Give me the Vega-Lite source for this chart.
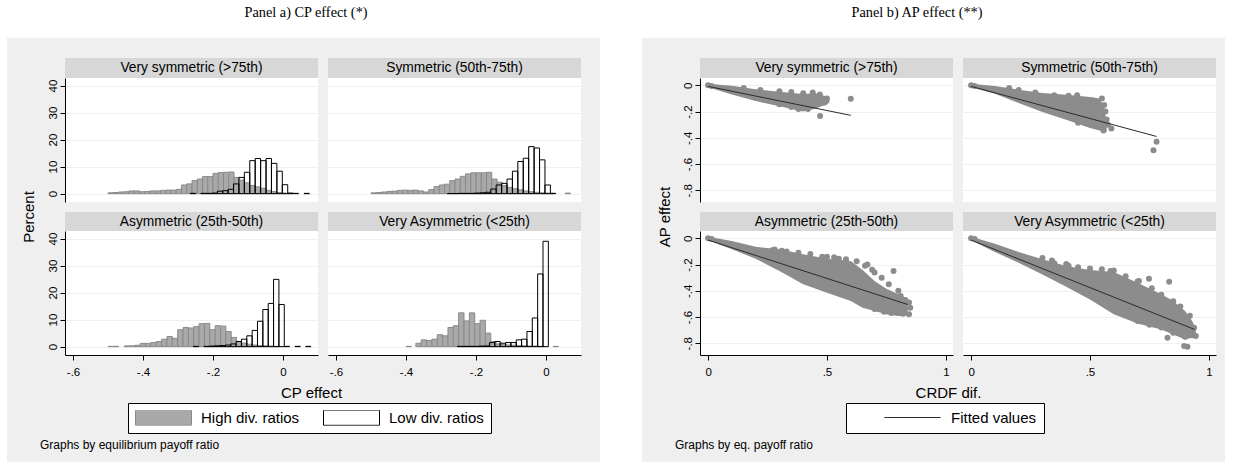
{
"$schema":"https://vega.github.io/schema/vega-lite/v6.json",
"background":"#efefef",
"padding":0,
"autosize":{"type":"pad"},
"datasets":{
"hist":[
{"p":"VS","s":"High div. ratios","a":-0.5,"b":-0.485,"v":0.3},
{"p":"VS","s":"High div. ratios","a":-0.485,"b":-0.47,"v":0.4},
{"p":"VS","s":"High div. ratios","a":-0.47,"b":-0.455,"v":0.6},
{"p":"VS","s":"High div. ratios","a":-0.455,"b":-0.44,"v":0.7},
{"p":"VS","s":"High div. ratios","a":-0.44,"b":-0.425,"v":1.0},
{"p":"VS","s":"High div. ratios","a":-0.425,"b":-0.41,"v":1.0},
{"p":"VS","s":"High div. ratios","a":-0.41,"b":-0.395,"v":0.7},
{"p":"VS","s":"High div. ratios","a":-0.395,"b":-0.38,"v":0.8},
{"p":"VS","s":"High div. ratios","a":-0.38,"b":-0.365,"v":1.0},
{"p":"VS","s":"High div. ratios","a":-0.365,"b":-0.35,"v":1.0},
{"p":"VS","s":"High div. ratios","a":-0.35,"b":-0.335,"v":1.2},
{"p":"VS","s":"High div. ratios","a":-0.335,"b":-0.32,"v":1.3},
{"p":"VS","s":"High div. ratios","a":-0.32,"b":-0.305,"v":1.3},
{"p":"VS","s":"High div. ratios","a":-0.305,"b":-0.29,"v":1.6},
{"p":"VS","s":"High div. ratios","a":-0.29,"b":-0.275,"v":3.2},
{"p":"VS","s":"High div. ratios","a":-0.275,"b":-0.26,"v":3.6},
{"p":"VS","s":"High div. ratios","a":-0.26,"b":-0.245,"v":4.8},
{"p":"VS","s":"High div. ratios","a":-0.245,"b":-0.23,"v":5.4},
{"p":"VS","s":"High div. ratios","a":-0.23,"b":-0.215,"v":6.3},
{"p":"VS","s":"High div. ratios","a":-0.215,"b":-0.2,"v":6.3},
{"p":"VS","s":"High div. ratios","a":-0.2,"b":-0.185,"v":7.5},
{"p":"VS","s":"High div. ratios","a":-0.185,"b":-0.17,"v":7.8},
{"p":"VS","s":"High div. ratios","a":-0.17,"b":-0.155,"v":7.9},
{"p":"VS","s":"High div. ratios","a":-0.155,"b":-0.14,"v":8.0},
{"p":"VS","s":"High div. ratios","a":-0.14,"b":-0.125,"v":6.0},
{"p":"VS","s":"High div. ratios","a":-0.125,"b":-0.11,"v":5.0},
{"p":"VS","s":"High div. ratios","a":-0.11,"b":-0.095,"v":4.0},
{"p":"VS","s":"High div. ratios","a":-0.095,"b":-0.08,"v":3.0},
{"p":"VS","s":"High div. ratios","a":-0.08,"b":-0.065,"v":2.5},
{"p":"VS","s":"High div. ratios","a":-0.065,"b":-0.05,"v":2.0},
{"p":"VS","s":"High div. ratios","a":-0.05,"b":-0.035,"v":1.2},
{"p":"VS","s":"High div. ratios","a":-0.035,"b":-0.02,"v":0.8},
{"p":"VS","s":"High div. ratios","a":-0.02,"b":-0.005,"v":0.4},
{"p":"VS","s":"High div. ratios","a":-0.005,"b":0.01,"v":0.2},
{"p":"VS","s":"High div. ratios","a":0.01,"b":0.025,"v":0.1},
{"p":"VS","s":"Low div. ratios","a":-0.265,"b":-0.2495,"v":0.1},
{"p":"VS","s":"Low div. ratios","a":-0.235,"b":-0.2195,"v":0.1},
{"p":"VS","s":"Low div. ratios","a":-0.219,"b":-0.2035,"v":0.1},
{"p":"VS","s":"Low div. ratios","a":-0.2035,"b":-0.188,"v":0.2},
{"p":"VS","s":"Low div. ratios","a":-0.188,"b":-0.1725,"v":0.9},
{"p":"VS","s":"Low div. ratios","a":-0.1725,"b":-0.157,"v":1.1},
{"p":"VS","s":"Low div. ratios","a":-0.157,"b":-0.1415,"v":1.6},
{"p":"VS","s":"Low div. ratios","a":-0.1415,"b":-0.126,"v":3.6},
{"p":"VS","s":"Low div. ratios","a":-0.126,"b":-0.1105,"v":6.0},
{"p":"VS","s":"Low div. ratios","a":-0.1105,"b":-0.095,"v":7.9},
{"p":"VS","s":"Low div. ratios","a":-0.095,"b":-0.0795,"v":12.2},
{"p":"VS","s":"Low div. ratios","a":-0.0795,"b":-0.064,"v":13.0},
{"p":"VS","s":"Low div. ratios","a":-0.064,"b":-0.0485,"v":12.2},
{"p":"VS","s":"Low div. ratios","a":-0.0485,"b":-0.033,"v":13.0},
{"p":"VS","s":"Low div. ratios","a":-0.033,"b":-0.0175,"v":11.2},
{"p":"VS","s":"Low div. ratios","a":-0.0175,"b":-0.002,"v":8.3},
{"p":"VS","s":"Low div. ratios","a":-0.002,"b":0.0135,"v":3.3},
{"p":"VS","s":"Low div. ratios","a":0.0135,"b":0.029,"v":0.2},
{"p":"VS","s":"Low div. ratios","a":0.029,"b":0.0445,"v":0.1},
{"p":"VS","s":"Low div. ratios","a":0.06,"b":0.0755,"v":0.1},
{"p":"S","s":"High div. ratios","a":-0.5,"b":-0.485,"v":0.3},
{"p":"S","s":"High div. ratios","a":-0.485,"b":-0.47,"v":0.4},
{"p":"S","s":"High div. ratios","a":-0.47,"b":-0.455,"v":0.6},
{"p":"S","s":"High div. ratios","a":-0.455,"b":-0.44,"v":0.8},
{"p":"S","s":"High div. ratios","a":-0.44,"b":-0.425,"v":0.9},
{"p":"S","s":"High div. ratios","a":-0.425,"b":-0.41,"v":1.2},
{"p":"S","s":"High div. ratios","a":-0.41,"b":-0.395,"v":1.3},
{"p":"S","s":"High div. ratios","a":-0.395,"b":-0.38,"v":1.2},
{"p":"S","s":"High div. ratios","a":-0.38,"b":-0.365,"v":1.3},
{"p":"S","s":"High div. ratios","a":-0.365,"b":-0.35,"v":1.0},
{"p":"S","s":"High div. ratios","a":-0.35,"b":-0.335,"v":0.6},
{"p":"S","s":"High div. ratios","a":-0.335,"b":-0.32,"v":1.5},
{"p":"S","s":"High div. ratios","a":-0.32,"b":-0.305,"v":2.6},
{"p":"S","s":"High div. ratios","a":-0.305,"b":-0.29,"v":3.2},
{"p":"S","s":"High div. ratios","a":-0.29,"b":-0.275,"v":3.5},
{"p":"S","s":"High div. ratios","a":-0.275,"b":-0.26,"v":4.8},
{"p":"S","s":"High div. ratios","a":-0.26,"b":-0.245,"v":5.4},
{"p":"S","s":"High div. ratios","a":-0.245,"b":-0.23,"v":6.4},
{"p":"S","s":"High div. ratios","a":-0.23,"b":-0.215,"v":7.3},
{"p":"S","s":"High div. ratios","a":-0.215,"b":-0.2,"v":7.7},
{"p":"S","s":"High div. ratios","a":-0.2,"b":-0.185,"v":7.7},
{"p":"S","s":"High div. ratios","a":-0.185,"b":-0.17,"v":7.7},
{"p":"S","s":"High div. ratios","a":-0.17,"b":-0.155,"v":7.9},
{"p":"S","s":"High div. ratios","a":-0.155,"b":-0.14,"v":5.4},
{"p":"S","s":"High div. ratios","a":-0.14,"b":-0.125,"v":4.2},
{"p":"S","s":"High div. ratios","a":-0.125,"b":-0.11,"v":3.0},
{"p":"S","s":"High div. ratios","a":-0.11,"b":-0.095,"v":2.3},
{"p":"S","s":"High div. ratios","a":-0.095,"b":-0.08,"v":1.8},
{"p":"S","s":"High div. ratios","a":-0.08,"b":-0.065,"v":1.4},
{"p":"S","s":"High div. ratios","a":-0.065,"b":-0.05,"v":1.0},
{"p":"S","s":"High div. ratios","a":-0.05,"b":-0.035,"v":0.7},
{"p":"S","s":"High div. ratios","a":-0.035,"b":-0.02,"v":0.5},
{"p":"S","s":"High div. ratios","a":-0.02,"b":-0.005,"v":0.3},
{"p":"S","s":"High div. ratios","a":-0.005,"b":0.01,"v":0.2},
{"p":"S","s":"High div. ratios","a":0.01,"b":0.025,"v":0.1},
{"p":"S","s":"High div. ratios","a":0.055,"b":0.07,"v":0.2},
{"p":"S","s":"Low div. ratios","a":-0.282,"b":-0.2665,"v":0.05},
{"p":"S","s":"Low div. ratios","a":-0.2665,"b":-0.251,"v":0.05},
{"p":"S","s":"Low div. ratios","a":-0.251,"b":-0.2355,"v":0.1},
{"p":"S","s":"Low div. ratios","a":-0.2355,"b":-0.22,"v":0.1},
{"p":"S","s":"Low div. ratios","a":-0.22,"b":-0.2045,"v":0.1},
{"p":"S","s":"Low div. ratios","a":-0.2045,"b":-0.189,"v":0.2},
{"p":"S","s":"Low div. ratios","a":-0.189,"b":-0.1735,"v":0.3},
{"p":"S","s":"Low div. ratios","a":-0.1735,"b":-0.158,"v":0.5},
{"p":"S","s":"Low div. ratios","a":-0.158,"b":-0.1425,"v":1.7},
{"p":"S","s":"Low div. ratios","a":-0.1425,"b":-0.127,"v":3.2},
{"p":"S","s":"Low div. ratios","a":-0.127,"b":-0.1115,"v":3.8},
{"p":"S","s":"Low div. ratios","a":-0.1115,"b":-0.096,"v":5.4},
{"p":"S","s":"Low div. ratios","a":-0.096,"b":-0.0805,"v":8.3},
{"p":"S","s":"Low div. ratios","a":-0.0805,"b":-0.065,"v":11.9},
{"p":"S","s":"Low div. ratios","a":-0.065,"b":-0.0495,"v":13.1},
{"p":"S","s":"Low div. ratios","a":-0.0495,"b":-0.034,"v":17.4},
{"p":"S","s":"Low div. ratios","a":-0.034,"b":-0.0185,"v":16.9},
{"p":"S","s":"Low div. ratios","a":-0.0185,"b":-0.003,"v":12.5},
{"p":"S","s":"Low div. ratios","a":-0.003,"b":0.0125,"v":3.2},
{"p":"S","s":"Low div. ratios","a":0.0125,"b":0.028,"v":0.1},
{"p":"A","s":"High div. ratios","a":-0.5,"b":-0.4847,"v":0.1},
{"p":"A","s":"High div. ratios","a":-0.4847,"b":-0.4694,"v":0.1},
{"p":"A","s":"High div. ratios","a":-0.454,"b":-0.4387,"v":0.25},
{"p":"A","s":"High div. ratios","a":-0.4387,"b":-0.4234,"v":0.3},
{"p":"A","s":"High div. ratios","a":-0.4234,"b":-0.4081,"v":0.5},
{"p":"A","s":"High div. ratios","a":-0.4081,"b":-0.3928,"v":1.2},
{"p":"A","s":"High div. ratios","a":-0.3928,"b":-0.3775,"v":1.2},
{"p":"A","s":"High div. ratios","a":-0.3775,"b":-0.3622,"v":1.5},
{"p":"A","s":"High div. ratios","a":-0.3622,"b":-0.3469,"v":1.9},
{"p":"A","s":"High div. ratios","a":-0.3469,"b":-0.3316,"v":2.75},
{"p":"A","s":"High div. ratios","a":-0.3316,"b":-0.3163,"v":3.75},
{"p":"A","s":"High div. ratios","a":-0.3163,"b":-0.301,"v":3.1},
{"p":"A","s":"High div. ratios","a":-0.301,"b":-0.2857,"v":6.25},
{"p":"A","s":"High div. ratios","a":-0.2857,"b":-0.2704,"v":7.1},
{"p":"A","s":"High div. ratios","a":-0.2704,"b":-0.2551,"v":6.9},
{"p":"A","s":"High div. ratios","a":-0.2551,"b":-0.2398,"v":7.4},
{"p":"A","s":"High div. ratios","a":-0.2398,"b":-0.2245,"v":8.5},
{"p":"A","s":"High div. ratios","a":-0.2245,"b":-0.2092,"v":8.6},
{"p":"A","s":"High div. ratios","a":-0.2092,"b":-0.1939,"v":6.25},
{"p":"A","s":"High div. ratios","a":-0.1939,"b":-0.1786,"v":7.75},
{"p":"A","s":"High div. ratios","a":-0.1786,"b":-0.1633,"v":7.6},
{"p":"A","s":"High div. ratios","a":-0.1633,"b":-0.148,"v":5.6},
{"p":"A","s":"High div. ratios","a":-0.148,"b":-0.1327,"v":3.4},
{"p":"A","s":"High div. ratios","a":-0.1327,"b":-0.1174,"v":1.9},
{"p":"A","s":"High div. ratios","a":-0.1174,"b":-0.1021,"v":1.3},
{"p":"A","s":"High div. ratios","a":-0.1021,"b":-0.0868,"v":0.9},
{"p":"A","s":"High div. ratios","a":-0.0868,"b":-0.0715,"v":0.6},
{"p":"A","s":"High div. ratios","a":-0.0715,"b":-0.0562,"v":0.4},
{"p":"A","s":"High div. ratios","a":-0.0562,"b":-0.0409,"v":0.3},
{"p":"A","s":"High div. ratios","a":-0.0409,"b":-0.0256,"v":0.2},
{"p":"A","s":"High div. ratios","a":-0.0256,"b":-0.0103,"v":0.1},
{"p":"A","s":"Low div. ratios","a":-0.2565,"b":-0.2412,"v":0.1},
{"p":"A","s":"Low div. ratios","a":-0.2259,"b":-0.2106,"v":0.1},
{"p":"A","s":"Low div. ratios","a":-0.2106,"b":-0.1953,"v":0.2},
{"p":"A","s":"Low div. ratios","a":-0.1953,"b":-0.18,"v":0.3},
{"p":"A","s":"Low div. ratios","a":-0.18,"b":-0.1647,"v":0.4},
{"p":"A","s":"Low div. ratios","a":-0.1647,"b":-0.1494,"v":0.6},
{"p":"A","s":"Low div. ratios","a":-0.1494,"b":-0.1341,"v":1.0},
{"p":"A","s":"Low div. ratios","a":-0.1341,"b":-0.1188,"v":1.9},
{"p":"A","s":"Low div. ratios","a":-0.1188,"b":-0.1035,"v":2.75},
{"p":"A","s":"Low div. ratios","a":-0.1035,"b":-0.0882,"v":4.0},
{"p":"A","s":"Low div. ratios","a":-0.0882,"b":-0.0729,"v":6.0},
{"p":"A","s":"Low div. ratios","a":-0.0729,"b":-0.0576,"v":9.4},
{"p":"A","s":"Low div. ratios","a":-0.0576,"b":-0.0423,"v":13.75},
{"p":"A","s":"Low div. ratios","a":-0.0423,"b":-0.027,"v":16.0},
{"p":"A","s":"Low div. ratios","a":-0.027,"b":-0.0117,"v":24.9},
{"p":"A","s":"Low div. ratios","a":-0.0117,"b":0.0036,"v":15.6},
{"p":"A","s":"Low div. ratios","a":0.0036,"b":0.0189,"v":0.1},
{"p":"A","s":"Low div. ratios","a":0.0342,"b":0.0495,"v":0.1},
{"p":"A","s":"Low div. ratios","a":0.0648,"b":0.0801,"v":0.1},
{"p":"VA","s":"High div. ratios","a":-0.4,"b":-0.3847,"v":0.1},
{"p":"VA","s":"High div. ratios","a":-0.372,"b":-0.3567,"v":1.25},
{"p":"VA","s":"High div. ratios","a":-0.3567,"b":-0.3414,"v":2.5},
{"p":"VA","s":"High div. ratios","a":-0.3414,"b":-0.3261,"v":2.25},
{"p":"VA","s":"High div. ratios","a":-0.3261,"b":-0.3108,"v":2.75},
{"p":"VA","s":"High div. ratios","a":-0.3108,"b":-0.2955,"v":4.4},
{"p":"VA","s":"High div. ratios","a":-0.2955,"b":-0.2802,"v":4.0},
{"p":"VA","s":"High div. ratios","a":-0.2802,"b":-0.2649,"v":7.1},
{"p":"VA","s":"High div. ratios","a":-0.2649,"b":-0.2496,"v":7.75},
{"p":"VA","s":"High div. ratios","a":-0.2496,"b":-0.2343,"v":12.5},
{"p":"VA","s":"High div. ratios","a":-0.2343,"b":-0.219,"v":9.5},
{"p":"VA","s":"High div. ratios","a":-0.219,"b":-0.2037,"v":12.5},
{"p":"VA","s":"High div. ratios","a":-0.2037,"b":-0.1884,"v":8.5},
{"p":"VA","s":"High div. ratios","a":-0.1884,"b":-0.1731,"v":9.75},
{"p":"VA","s":"High div. ratios","a":-0.1731,"b":-0.1578,"v":5.0},
{"p":"VA","s":"High div. ratios","a":-0.1578,"b":-0.1425,"v":1.9},
{"p":"VA","s":"High div. ratios","a":-0.1425,"b":-0.1272,"v":1.0},
{"p":"VA","s":"High div. ratios","a":-0.1272,"b":-0.1119,"v":0.8},
{"p":"VA","s":"High div. ratios","a":-0.1119,"b":-0.0966,"v":0.6},
{"p":"VA","s":"High div. ratios","a":-0.0966,"b":-0.0813,"v":0.5},
{"p":"VA","s":"High div. ratios","a":-0.0813,"b":-0.066,"v":0.4},
{"p":"VA","s":"High div. ratios","a":-0.066,"b":-0.0507,"v":0.3},
{"p":"VA","s":"High div. ratios","a":-0.0507,"b":-0.0354,"v":0.2},
{"p":"VA","s":"High div. ratios","a":-0.0354,"b":-0.0201,"v":0.2},
{"p":"VA","s":"High div. ratios","a":-0.0201,"b":-0.0048,"v":0.1},
{"p":"VA","s":"High div. ratios","a":0.02,"b":0.0353,"v":0.1},
{"p":"VA","s":"Low div. ratios","a":-0.2534,"b":-0.2381,"v":0.1},
{"p":"VA","s":"Low div. ratios","a":-0.2381,"b":-0.2228,"v":0.1},
{"p":"VA","s":"Low div. ratios","a":-0.2228,"b":-0.2075,"v":0.1},
{"p":"VA","s":"Low div. ratios","a":-0.2075,"b":-0.1922,"v":0.1},
{"p":"VA","s":"Low div. ratios","a":-0.1922,"b":-0.1769,"v":0.2},
{"p":"VA","s":"Low div. ratios","a":-0.1769,"b":-0.1616,"v":0.25},
{"p":"VA","s":"Low div. ratios","a":-0.1616,"b":-0.1463,"v":1.5},
{"p":"VA","s":"Low div. ratios","a":-0.1463,"b":-0.131,"v":1.9},
{"p":"VA","s":"Low div. ratios","a":-0.131,"b":-0.1157,"v":1.25},
{"p":"VA","s":"Low div. ratios","a":-0.1157,"b":-0.1004,"v":1.5},
{"p":"VA","s":"Low div. ratios","a":-0.1004,"b":-0.0851,"v":1.5},
{"p":"VA","s":"Low div. ratios","a":-0.0851,"b":-0.0698,"v":2.5},
{"p":"VA","s":"Low div. ratios","a":-0.0698,"b":-0.0545,"v":2.75},
{"p":"VA","s":"Low div. ratios","a":-0.0545,"b":-0.0392,"v":5.6},
{"p":"VA","s":"Low div. ratios","a":-0.0392,"b":-0.0239,"v":10.6},
{"p":"VA","s":"Low div. ratios","a":-0.0239,"b":-0.0086,"v":26.9},
{"p":"VA","s":"Low div. ratios","a":-0.0086,"b":0.0067,"v":39.0}
],
"env":[
{"p":"VS","x":0,"y":0.012,"lo":-0.015},{"p":"VS","x":0.1,"y":-0.003,"lo":-0.069},{"p":"VS","x":0.2,"y":-0.03,"lo":-0.12},{"p":"VS","x":0.3,"y":-0.048,"lo":-0.16},{"p":"VS","x":0.4,"y":-0.066,"lo":-0.2},{"p":"VS","x":0.45,"y":-0.06,"lo":-0.178},{"p":"VS","x":0.5,"y":-0.085,"lo":-0.145},{"p":"VS","x":0.51,"y":-0.1,"lo":-0.13},
{"p":"S","x":0,"y":0.012,"lo":-0.015},{"p":"S","x":0.1,"y":-0.005,"lo":-0.064},{"p":"S","x":0.2,"y":-0.033,"lo":-0.135},{"p":"S","x":0.3,"y":-0.058,"lo":-0.204},{"p":"S","x":0.4,"y":-0.071,"lo":-0.262},{"p":"S","x":0.5,"y":-0.089,"lo":-0.326},{"p":"S","x":0.54,"y":-0.1,"lo":-0.345},{"p":"S","x":0.56,"y":-0.17,"lo":-0.36},{"p":"S","x":0.57,"y":-0.28,"lo":-0.35},
{"p":"A","x":0,"y":0.012,"lo":-0.015},{"p":"A","x":0.1,"y":-0.02,"lo":-0.084},{"p":"A","x":0.2,"y":-0.064,"lo":-0.155},{"p":"A","x":0.3,"y":-0.084,"lo":-0.249},{"p":"A","x":0.4,"y":-0.122,"lo":-0.351},{"p":"A","x":0.5,"y":-0.155,"lo":-0.415},{"p":"A","x":0.6,"y":-0.173,"lo":-0.478},{"p":"A","x":0.65,"y":-0.242,"lo":-0.529},{"p":"A","x":0.7,"y":-0.326,"lo":-0.555},{"p":"A","x":0.75,"y":-0.384,"lo":-0.58},{"p":"A","x":0.8,"y":-0.427,"lo":-0.593},{"p":"A","x":0.84,"y":-0.46,"lo":-0.588},
{"p":"VA","x":0,"y":0.012,"lo":-0.015},{"p":"VA","x":0.1,"y":-0.041,"lo":-0.104},{"p":"VA","x":0.2,"y":-0.104,"lo":-0.186},{"p":"VA","x":0.3,"y":-0.16,"lo":-0.275},{"p":"VA","x":0.4,"y":-0.211,"lo":-0.369},{"p":"VA","x":0.5,"y":-0.242,"lo":-0.466},{"p":"VA","x":0.6,"y":-0.257,"lo":-0.58},{"p":"VA","x":0.7,"y":-0.338,"lo":-0.649},{"p":"VA","x":0.8,"y":-0.427,"lo":-0.695},{"p":"VA","x":0.85,"y":-0.478,"lo":-0.733},{"p":"VA","x":0.9,"y":-0.555,"lo":-0.771},{"p":"VA","x":0.93,"y":-0.631,"lo":-0.758},{"p":"VA","x":0.945,"y":-0.69,"lo":-0.74}
],
"pts":[
{"p":"VS","x":0,"y":0},{"p":"VS","x":0.015,"y":-0.005},{"p":"VS","x":0.15,"y":-0.02},{"p":"VS","x":0.22,"y":-0.035},{"p":"VS","x":0.25,"y":-0.065},{"p":"VS","x":0.3,"y":-0.045},{"p":"VS","x":0.35,"y":-0.05},{"p":"VS","x":0.4,"y":-0.06},{"p":"VS","x":0.44,"y":-0.055},{"p":"VS","x":0.45,"y":-0.085},{"p":"VS","x":0.47,"y":-0.07},{"p":"VS","x":0.5,"y":-0.1},{"p":"VS","x":0.49,"y":-0.13},{"p":"VS","x":0.2,"y":-0.095},{"p":"VS","x":0.3,"y":-0.145},{"p":"VS","x":0.35,"y":-0.165},{"p":"VS","x":0.38,"y":-0.18},{"p":"VS","x":0.42,"y":-0.18},{"p":"VS","x":0.6,"y":-0.102},{"p":"VS","x":0.471,"y":-0.234},
{"p":"S","x":0,"y":0},{"p":"S","x":0.015,"y":-0.005},{"p":"S","x":0.16,"y":-0.02},{"p":"S","x":0.2,"y":-0.035},{"p":"S","x":0.27,"y":-0.055},{"p":"S","x":0.35,"y":-0.075},{"p":"S","x":0.41,"y":-0.08},{"p":"S","x":0.446,"y":-0.076},{"p":"S","x":0.51,"y":-0.115},{"p":"S","x":0.55,"y":-0.1},{"p":"S","x":0.52,"y":-0.15},{"p":"S","x":0.516,"y":-0.178},{"p":"S","x":0.56,"y":-0.15},{"p":"S","x":0.565,"y":-0.2},{"p":"S","x":0.57,"y":-0.26},{"p":"S","x":0.575,"y":-0.3},{"p":"S","x":0.59,"y":-0.33},{"p":"S","x":0.557,"y":-0.345},{"p":"S","x":0.45,"y":-0.285},{"p":"S","x":0.78,"y":-0.43},{"p":"S","x":0.767,"y":-0.496},
{"p":"A","x":0,"y":0},{"p":"A","x":0.015,"y":-0.005},{"p":"A","x":0.27,"y":-0.09},{"p":"A","x":0.28,"y":-0.085},{"p":"A","x":0.31,"y":-0.095},{"p":"A","x":0.33,"y":-0.1},{"p":"A","x":0.38,"y":-0.11},{"p":"A","x":0.43,"y":-0.12},{"p":"A","x":0.48,"y":-0.14},{"p":"A","x":0.5,"y":-0.14},{"p":"A","x":0.53,"y":-0.145},{"p":"A","x":0.55,"y":-0.155},{"p":"A","x":0.58,"y":-0.16},{"p":"A","x":0.625,"y":-0.175},{"p":"A","x":0.66,"y":-0.21},{"p":"A","x":0.67,"y":-0.2},{"p":"A","x":0.69,"y":-0.24},{"p":"A","x":0.7,"y":-0.26},{"p":"A","x":0.73,"y":-0.3},{"p":"A","x":0.76,"y":-0.35},{"p":"A","x":0.78,"y":-0.25},{"p":"A","x":0.8,"y":-0.4},{"p":"A","x":0.81,"y":-0.44},{"p":"A","x":0.83,"y":-0.47},{"p":"A","x":0.845,"y":-0.49},{"p":"A","x":0.85,"y":-0.53},{"p":"A","x":0.845,"y":-0.58},{"p":"A","x":0.82,"y":-0.575},{"p":"A","x":0.8,"y":-0.57},{"p":"A","x":0.77,"y":-0.57},{"p":"A","x":0.74,"y":-0.56},{"p":"A","x":0.72,"y":-0.54},{"p":"A","x":0.7,"y":-0.54},
{"p":"VA","x":0,"y":0},{"p":"VA","x":0.015,"y":-0.005},{"p":"VA","x":0.3,"y":-0.15},{"p":"VA","x":0.34,"y":-0.17},{"p":"VA","x":0.35,"y":-0.19},{"p":"VA","x":0.4,"y":-0.195},{"p":"VA","x":0.41,"y":-0.21},{"p":"VA","x":0.45,"y":-0.22},{"p":"VA","x":0.5,"y":-0.23},{"p":"VA","x":0.55,"y":-0.235},{"p":"VA","x":0.586,"y":-0.249},{"p":"VA","x":0.6,"y":-0.245},{"p":"VA","x":0.65,"y":-0.29},{"p":"VA","x":0.7,"y":-0.33},{"p":"VA","x":0.706,"y":-0.326},{"p":"VA","x":0.748,"y":-0.308},{"p":"VA","x":0.76,"y":-0.38},{"p":"VA","x":0.8,"y":-0.43},{"p":"VA","x":0.833,"y":-0.331},{"p":"VA","x":0.85,"y":-0.48},{"p":"VA","x":0.88,"y":-0.52},{"p":"VA","x":0.92,"y":-0.59},{"p":"VA","x":0.938,"y":-0.682},{"p":"VA","x":0.945,"y":-0.746},{"p":"VA","x":0.93,"y":-0.74},{"p":"VA","x":0.91,"y":-0.827},{"p":"VA","x":0.896,"y":-0.822},{"p":"VA","x":0.9,"y":-0.75},{"p":"VA","x":0.85,"y":-0.72},{"p":"VA","x":0.826,"y":-0.758},{"p":"VA","x":0.8,"y":-0.68},{"p":"VA","x":0.75,"y":-0.66},{"p":"VA","x":0.7,"y":-0.63}
],
"fit":[
{"p":"VS","x":0,"y":-0.008,"s":"Fitted values"},{"p":"VS","x":0.6,"y":-0.229,"s":"Fitted values"},
{"p":"S","x":0,"y":-0.008,"s":"Fitted values"},{"p":"S","x":0.78,"y":-0.39,"s":"Fitted values"},
{"p":"A","x":0,"y":-0.013,"s":"Fitted values"},{"p":"A","x":0.84,"y":-0.505,"s":"Fitted values"},
{"p":"VA","x":0,"y":-0.013,"s":"Fitted values"},{"p":"VA","x":0.94,"y":-0.695,"s":"Fitted values"}
]
},
"columns":13,
"spacing":0,
"bounds":"flush",
"align":"each",
"concat":[
{"width":7,"height":38,"view":{"fill":"#ffffff"},"data":{"values":[]},"mark":"text"},
{"width":58,"height":38,"view":{"fill":"#ffffff"},"data":{"values":[]},"mark":"text"},
{"width":253,"height":38,"view":{"fill":"#ffffff"},"data":{"values":[]},"mark":"text"},
{"width":10,"height":38,"view":{"fill":"#ffffff"},"data":{"values":[]},"mark":"text"},
{"width":253,"height":38,"view":{"fill":"#ffffff"},"data":{"values":[{"t":"Panel a) CP effect (*)"}]},"mark":{"type":"text","font":"Liberation Serif","fontSize":14.3,"color":"#000000","dx":-148.5,"dy":-6,"baseline":"middle"},"encoding":{"text":{"field":"t"}}},
{"width":19,"height":38,"view":{"fill":"#ffffff"},"data":{"values":[]},"mark":"text"},
{"width":42,"height":38,"view":{"fill":"#ffffff"},"data":{"values":[]},"mark":"text"},
{"width":58,"height":38,"view":{"fill":"#ffffff"},"data":{"values":[]},"mark":"text"},
{"width":253,"height":38,"view":{"fill":"#ffffff"},"data":{"values":[]},"mark":"text"},
{"width":10,"height":38,"view":{"fill":"#ffffff"},"data":{"values":[]},"mark":"text"},
{"width":253,"height":38,"view":{"fill":"#ffffff"},"data":{"values":[{"t":"Panel b) AP effect (**)"}]},"mark":{"type":"text","font":"Liberation Serif","fontSize":14.3,"color":"#000000","dx":-172.5,"dy":-6,"baseline":"middle"},"encoding":{"text":{"field":"t"}}},
{"width":9,"height":38,"view":{"fill":"#ffffff"},"data":{"values":[]},"mark":"text"},
{"width":8,"height":38,"view":{"fill":"#ffffff"},"data":{"values":[]},"mark":"text"},

{"width":7,"height":20,"view":{"fill":"#ffffff"},"data":{"values":[]},"mark":"text"},
{"width":58,"height":20,"data":{"values":[]},"mark":"text"},
{"width":253,"height":20,"data":{"values":[]},"mark":"text"},
{"width":10,"height":20,"data":{"values":[]},"mark":"text"},
{"width":253,"height":20,"data":{"values":[]},"mark":"text"},
{"width":19,"height":20,"data":{"values":[]},"mark":"text"},
{"width":42,"height":20,"view":{"fill":"#ffffff"},"data":{"values":[]},"mark":"text"},
{"width":58,"height":20,"data":{"values":[]},"mark":"text"},
{"width":253,"height":20,"data":{"values":[]},"mark":"text"},
{"width":10,"height":20,"data":{"values":[]},"mark":"text"},
{"width":253,"height":20,"data":{"values":[]},"mark":"text"},
{"width":9,"height":20,"data":{"values":[]},"mark":"text"},
{"width":8,"height":20,"view":{"fill":"#ffffff"},"data":{"values":[]},"mark":"text"},

{"width":7,"height":20,"view":{"fill":"#ffffff"},"data":{"values":[]},"mark":"text"},
{"width":58,"height":20,"data":{"values":[]},"mark":"text"},
{"width":253,"height":20,"view":{"fill":"#d7d7d7"},"data":{"values":[{"t":"Very symmetric (>75th)"}]},"mark":{"type":"text","font":"Liberation Sans","fontSize":13.8,"color":"#000000","baseline":"middle"},"encoding":{"text":{"field":"t"}}},
{"width":10,"height":20,"data":{"values":[]},"mark":"text"},
{"width":253,"height":20,"view":{"fill":"#d7d7d7"},"data":{"values":[{"t":"Symmetric (50th-75th)"}]},"mark":{"type":"text","font":"Liberation Sans","fontSize":13.8,"color":"#000000","baseline":"middle"},"encoding":{"text":{"field":"t"}}},
{"width":19,"height":20,"data":{"values":[]},"mark":"text"},
{"width":42,"height":20,"view":{"fill":"#ffffff"},"data":{"values":[]},"mark":"text"},
{"width":58,"height":20,"data":{"values":[]},"mark":"text"},
{"width":253,"height":20,"view":{"fill":"#d7d7d7"},"data":{"values":[{"t":"Very symmetric (>75th)"}]},"mark":{"type":"text","font":"Liberation Sans","fontSize":13.8,"color":"#000000","baseline":"middle"},"encoding":{"text":{"field":"t"}}},
{"width":10,"height":20,"data":{"values":[]},"mark":"text"},
{"width":253,"height":20,"view":{"fill":"#d7d7d7"},"data":{"values":[{"t":"Symmetric (50th-75th)"}]},"mark":{"type":"text","font":"Liberation Sans","fontSize":13.8,"color":"#000000","baseline":"middle"},"encoding":{"text":{"field":"t"}}},
{"width":9,"height":20,"data":{"values":[]},"mark":"text"},
{"width":8,"height":20,"view":{"fill":"#ffffff"},"data":{"values":[]},"mark":"text"},

{"width":7,"height":124,"view":{"fill":"#ffffff"},"data":{"values":[]},"mark":"text"},
{"width":58,"height":124,"data":{"values":[]},"mark":"text"},
{"width":253,"height":124,"view":{"fill":"#ffffff"},"data":{"name":"hist"},"transform":[{"filter":"datum.p=='VS'"}],"mark":{"type":"rect","strokeWidth":1},
 "encoding":{
  "x":{"field":"a","type":"quantitative","scale":{"domain":[-0.623,0.1],"nice":false,"zero":false},"axis":null},
  "x2":{"field":"b"},
  "y":{"field":"v","type":"quantitative","scale":{"domain":[-3.1,42.8],"nice":false,"zero":false},"axis":{"values":[0,10,20,30,40],"title":"Percent","titleX":-37,"titleY":138.5,"titleAngle":270,"titleAlign":"center","titleBaseline":"middle","labelAngle":270,"labelAlign":"center","labelBaseline":"middle","labelPadding":6.5,"grid":true}},
  "y2":{"datum":0},
  "fill":{"field":"s","type":"nominal","scale":{"domain":["High div. ratios","Low div. ratios"],"range":["#a9a9a9","transparent"]},"legend":{"title":null,"orient":"none","legendX":128,"legendY":403,"direction":"horizontal","symbolType":"M-1,-0.27H1V0.27H-1Z","symbolSize":3136,"symbolStrokeWidth":1,"symbolOpacity":1,"labelFont":"Liberation Sans","labelFontSize":15,"labelColor":"#000000","labelOffset":9,"columnPadding":23,"padding":7,"fillColor":"#ffffff","strokeColor":"#000000","clipHeight":15}},
  "stroke":{"field":"s","type":"nominal","scale":{"domain":["High div. ratios","Low div. ratios"],"range":["#8a8a8a","#000000"]},"legend":{"title":null,"orient":"none","legendX":128,"legendY":403,"direction":"horizontal","symbolType":"M-1,-0.27H1V0.27H-1Z","symbolSize":3136,"symbolStrokeWidth":1,"symbolOpacity":1,"labelFont":"Liberation Sans","labelFontSize":15,"labelColor":"#000000","labelOffset":9,"columnPadding":23,"padding":7,"fillColor":"#ffffff","strokeColor":"#000000","clipHeight":15}}
 }},
{"width":10,"height":124,"data":{"values":[]},"mark":"text"},
{"width":253,"height":124,"view":{"fill":"#ffffff"},"data":{"name":"hist"},"transform":[{"filter":"datum.p=='S'"}],"mark":{"type":"rect","strokeWidth":1},
 "encoding":{
  "x":{"field":"a","type":"quantitative","scale":{"domain":[-0.623,0.1],"nice":false,"zero":false},"axis":null},
  "x2":{"field":"b"},
  "y":{"field":"v","type":"quantitative","scale":{"domain":[-3.1,42.8],"nice":false,"zero":false},"axis":{"values":[0,10,20,30,40],"title":null,"labels":false,"ticks":false,"domain":false,"grid":true}},
  "y2":{"datum":0},
  "fill":{"field":"s","type":"nominal","scale":{"domain":["High div. ratios","Low div. ratios"],"range":["#a9a9a9","transparent"]}},
  "stroke":{"field":"s","type":"nominal","scale":{"domain":["High div. ratios","Low div. ratios"],"range":["#8a8a8a","#000000"]}}
 }},
{"width":19,"height":124,"data":{"values":[]},"mark":"text"},
{"width":42,"height":124,"view":{"fill":"#ffffff"},"data":{"values":[]},"mark":"text"},
{"width":58,"height":124,"data":{"values":[]},"mark":"text"},
{"width":253,"height":124,"view":{"fill":"#ffffff"},
 "encoding":{
  "x":{"field":"x","type":"quantitative","scale":{"domain":[-0.034,1.03],"nice":false,"zero":false},"axis":null},
  "y":{"field":"y","type":"quantitative","scale":{"domain":[-0.89,0.056],"nice":false,"zero":false},"axis":{"values":[0,-0.2,-0.4,-0.6,-0.8],"labelExpr":"datum.value == 0 ? '0' : (datum.value < 0 ? '-' : '') + replace(format(abs(datum.value), '~g'), '0.', '.')","title":"AP effect","titleX":-36,"titleY":138.5,"titleAngle":270,"titleAlign":"center","titleBaseline":"middle","labelAngle":270,"labelAlign":"center","labelBaseline":"middle","labelPadding":6.5,"grid":true}}
 },
 "layer":[
  {"data":{"name":"env"},"transform":[{"filter":"datum.p=='VS'"}],"mark":{"type":"area","color":"#8c8c8c","opacity":1},"encoding":{"y2":{"field":"lo"}}},
  {"data":{"name":"pts"},"transform":[{"filter":"datum.p=='VS'"}],"mark":{"type":"point","filled":true,"size":36,"color":"#8c8c8c","opacity":1}},
  {"data":{"name":"fit"},"transform":[{"filter":"datum.p=='VS'"}],"mark":{"type":"line","strokeWidth":1},"encoding":{"color":{"field":"s","type":"nominal","scale":{"range":["#2b2b2b"]},"legend":{"title":null,"orient":"none","legendX":846,"legendY":403,"symbolType":"M-0.29,0H1","symbolSize":7569,"symbolStrokeWidth":1,"symbolFillColor":"transparent","labelFont":"Liberation Sans","labelFontSize":15,"labelColor":"#000000","labelOffset":10,"padding":7,"fillColor":"#ffffff","strokeColor":"#000000","clipHeight":15}}}}
 ]},
{"width":10,"height":124,"data":{"values":[]},"mark":"text"},
{"width":253,"height":124,"view":{"fill":"#ffffff"},
 "encoding":{
  "x":{"field":"x","type":"quantitative","scale":{"domain":[-0.034,1.03],"nice":false,"zero":false},"axis":null},
  "y":{"field":"y","type":"quantitative","scale":{"domain":[-0.89,0.056],"nice":false,"zero":false},"axis":{"values":[0,-0.2,-0.4,-0.6,-0.8],"title":null,"labels":false,"ticks":false,"domain":false,"grid":true}}
 },
 "layer":[
  {"data":{"name":"env"},"transform":[{"filter":"datum.p=='S'"}],"mark":{"type":"area","color":"#8c8c8c","opacity":1},"encoding":{"y2":{"field":"lo"}}},
  {"data":{"name":"pts"},"transform":[{"filter":"datum.p=='S'"}],"mark":{"type":"point","filled":true,"size":36,"color":"#8c8c8c","opacity":1}},
  {"data":{"name":"fit"},"transform":[{"filter":"datum.p=='S'"}],"mark":{"type":"line","strokeWidth":1},"encoding":{"color":{"field":"s","type":"nominal","scale":{"range":["#2b2b2b"]}}}}
 ]},
{"width":9,"height":124,"data":{"values":[]},"mark":"text"},
{"width":8,"height":124,"view":{"fill":"#ffffff"},"data":{"values":[]},"mark":"text"},

{"width":7,"height":10,"view":{"fill":"#ffffff"},"data":{"values":[]},"mark":"text"},
{"width":58,"height":10,"data":{"values":[]},"mark":"text"},
{"width":253,"height":10,"data":{"values":[]},"mark":"text"},
{"width":10,"height":10,"data":{"values":[]},"mark":"text"},
{"width":253,"height":10,"data":{"values":[]},"mark":"text"},
{"width":19,"height":10,"data":{"values":[]},"mark":"text"},
{"width":42,"height":10,"view":{"fill":"#ffffff"},"data":{"values":[]},"mark":"text"},
{"width":58,"height":10,"data":{"values":[]},"mark":"text"},
{"width":253,"height":10,"data":{"values":[]},"mark":"text"},
{"width":10,"height":10,"data":{"values":[]},"mark":"text"},
{"width":253,"height":10,"data":{"values":[]},"mark":"text"},
{"width":9,"height":10,"data":{"values":[]},"mark":"text"},
{"width":8,"height":10,"view":{"fill":"#ffffff"},"data":{"values":[]},"mark":"text"},

{"width":7,"height":19,"view":{"fill":"#ffffff"},"data":{"values":[]},"mark":"text"},
{"width":58,"height":19,"data":{"values":[]},"mark":"text"},
{"width":253,"height":19,"view":{"fill":"#d7d7d7"},"data":{"values":[{"t":"Asymmetric (25th-50th)"}]},"mark":{"type":"text","font":"Liberation Sans","fontSize":13.8,"color":"#000000","baseline":"middle"},"encoding":{"text":{"field":"t"}}},
{"width":10,"height":19,"data":{"values":[]},"mark":"text"},
{"width":253,"height":19,"view":{"fill":"#d7d7d7"},"data":{"values":[{"t":"Very Asymmetric (<25th)"}]},"mark":{"type":"text","font":"Liberation Sans","fontSize":13.8,"color":"#000000","baseline":"middle"},"encoding":{"text":{"field":"t"}}},
{"width":19,"height":19,"data":{"values":[]},"mark":"text"},
{"width":42,"height":19,"view":{"fill":"#ffffff"},"data":{"values":[]},"mark":"text"},
{"width":58,"height":19,"data":{"values":[]},"mark":"text"},
{"width":253,"height":19,"view":{"fill":"#d7d7d7"},"data":{"values":[{"t":"Asymmetric (25th-50th)"}]},"mark":{"type":"text","font":"Liberation Sans","fontSize":13.8,"color":"#000000","baseline":"middle"},"encoding":{"text":{"field":"t"}}},
{"width":10,"height":19,"data":{"values":[]},"mark":"text"},
{"width":253,"height":19,"view":{"fill":"#d7d7d7"},"data":{"values":[{"t":"Very Asymmetric (<25th)"}]},"mark":{"type":"text","font":"Liberation Sans","fontSize":13.8,"color":"#000000","baseline":"middle"},"encoding":{"text":{"field":"t"}}},
{"width":9,"height":19,"data":{"values":[]},"mark":"text"},
{"width":8,"height":19,"view":{"fill":"#ffffff"},"data":{"values":[]},"mark":"text"},

{"width":7,"height":124,"view":{"fill":"#ffffff"},"data":{"values":[]},"mark":"text"},
{"width":58,"height":124,"data":{"values":[]},"mark":"text"},
{"width":253,"height":124,"view":{"fill":"#ffffff"},"data":{"name":"hist"},"transform":[{"filter":"datum.p=='A'"}],"mark":{"type":"rect","strokeWidth":1},
 "encoding":{
  "x":{"field":"a","type":"quantitative","scale":{"domain":[-0.623,0.1],"nice":false,"zero":false},"axis":{"values":[-0.6,-0.4,-0.2,0],"labelExpr":"datum.value == 0 ? '0' : (datum.value < 0 ? '-' : '') + replace(format(abs(datum.value), '~g'), '0.', '.')","title":"CP effect","titleX":246,"titleY":37,"titleAlign":"center","titleBaseline":"middle","labelPadding":6.5,"grid":false}},
  "x2":{"field":"b"},
  "y":{"field":"v","type":"quantitative","scale":{"domain":[-3.1,42.8],"nice":false,"zero":false},"axis":{"values":[0,10,20,30,40],"title":null,"labelAngle":270,"labelAlign":"center","labelBaseline":"middle","labelPadding":6.5,"grid":true}},
  "y2":{"datum":0},
  "fill":{"field":"s","type":"nominal","scale":{"domain":["High div. ratios","Low div. ratios"],"range":["#a9a9a9","transparent"]}},
  "stroke":{"field":"s","type":"nominal","scale":{"domain":["High div. ratios","Low div. ratios"],"range":["#8a8a8a","#000000"]}}
 }},
{"width":10,"height":124,"data":{"values":[]},"mark":"text"},
{"width":253,"height":124,"view":{"fill":"#ffffff"},"data":{"name":"hist"},"transform":[{"filter":"datum.p=='VA'"}],"mark":{"type":"rect","strokeWidth":1},
 "encoding":{
  "x":{"field":"a","type":"quantitative","scale":{"domain":[-0.623,0.1],"nice":false,"zero":false},"axis":{"values":[-0.6,-0.4,-0.2,0],"labelExpr":"datum.value == 0 ? '0' : (datum.value < 0 ? '-' : '') + replace(format(abs(datum.value), '~g'), '0.', '.')","title":null,"labelPadding":6.5,"grid":false}},
  "x2":{"field":"b"},
  "y":{"field":"v","type":"quantitative","scale":{"domain":[-3.1,42.8],"nice":false,"zero":false},"axis":{"values":[0,10,20,30,40],"title":null,"labels":false,"ticks":false,"domain":false,"grid":true}},
  "y2":{"datum":0},
  "fill":{"field":"s","type":"nominal","scale":{"domain":["High div. ratios","Low div. ratios"],"range":["#a9a9a9","transparent"]}},
  "stroke":{"field":"s","type":"nominal","scale":{"domain":["High div. ratios","Low div. ratios"],"range":["#8a8a8a","#000000"]}}
 }},
{"width":19,"height":124,"data":{"values":[]},"mark":"text"},
{"width":42,"height":124,"view":{"fill":"#ffffff"},"data":{"values":[]},"mark":"text"},
{"width":58,"height":124,"data":{"values":[]},"mark":"text"},
{"width":253,"height":124,"view":{"fill":"#ffffff"},
 "encoding":{
  "x":{"field":"x","type":"quantitative","scale":{"domain":[-0.034,1.03],"nice":false,"zero":false},"axis":{"values":[0,0.5,1],"labelExpr":"datum.value == 0 ? '0' : (datum.value < 0 ? '-' : '') + replace(format(abs(datum.value), '~g'), '0.', '.')","title":"CRDF dif.","titleX":248,"titleY":37,"titleAlign":"center","titleBaseline":"middle","labelPadding":6.5,"grid":false}},
  "y":{"field":"y","type":"quantitative","scale":{"domain":[-0.89,0.056],"nice":false,"zero":false},"axis":{"values":[0,-0.2,-0.4,-0.6,-0.8],"labelExpr":"datum.value == 0 ? '0' : (datum.value < 0 ? '-' : '') + replace(format(abs(datum.value), '~g'), '0.', '.')","title":null,"labelAngle":270,"labelAlign":"center","labelBaseline":"middle","labelPadding":6.5,"grid":true}}
 },
 "layer":[
  {"data":{"name":"env"},"transform":[{"filter":"datum.p=='A'"}],"mark":{"type":"area","color":"#8c8c8c","opacity":1},"encoding":{"y2":{"field":"lo"}}},
  {"data":{"name":"pts"},"transform":[{"filter":"datum.p=='A'"}],"mark":{"type":"point","filled":true,"size":36,"color":"#8c8c8c","opacity":1}},
  {"data":{"name":"fit"},"transform":[{"filter":"datum.p=='A'"}],"mark":{"type":"line","strokeWidth":1},"encoding":{"color":{"field":"s","type":"nominal","scale":{"range":["#2b2b2b"]}}}}
 ]},
{"width":10,"height":124,"data":{"values":[]},"mark":"text"},
{"width":253,"height":124,"view":{"fill":"#ffffff"},
 "encoding":{
  "x":{"field":"x","type":"quantitative","scale":{"domain":[-0.034,1.03],"nice":false,"zero":false},"axis":{"values":[0,0.5,1],"labelExpr":"datum.value == 0 ? '0' : (datum.value < 0 ? '-' : '') + replace(format(abs(datum.value), '~g'), '0.', '.')","title":null,"labelPadding":6.5,"grid":false}},
  "y":{"field":"y","type":"quantitative","scale":{"domain":[-0.89,0.056],"nice":false,"zero":false},"axis":{"values":[0,-0.2,-0.4,-0.6,-0.8],"title":null,"labels":false,"ticks":false,"domain":false,"grid":true}}
 },
 "layer":[
  {"data":{"name":"env"},"transform":[{"filter":"datum.p=='VA'"}],"mark":{"type":"area","color":"#8c8c8c","opacity":1},"encoding":{"y2":{"field":"lo"}}},
  {"data":{"name":"pts"},"transform":[{"filter":"datum.p=='VA'"}],"mark":{"type":"point","filled":true,"size":36,"color":"#8c8c8c","opacity":1}},
  {"data":{"name":"fit"},"transform":[{"filter":"datum.p=='VA'"}],"mark":{"type":"line","strokeWidth":1},"encoding":{"color":{"field":"s","type":"nominal","scale":{"range":["#2b2b2b"]}}}}
 ]},
{"width":9,"height":124,"data":{"values":[]},"mark":"text"},
{"width":8,"height":124,"view":{"fill":"#ffffff"},"data":{"values":[]},"mark":"text"},

{"width":7,"height":107,"view":{"fill":"#ffffff"},"data":{"values":[]},"mark":"text"},
{"width":58,"height":107,"data":{"values":[{"t":"Graphs by equilibrium payoff ratio"}]},"mark":{"type":"text","font":"Liberation Sans","fontSize":12,"color":"#000000","align":"left","baseline":"middle","dx":4,"dy":36.5},"encoding":{"text":{"field":"t"}}},
{"width":253,"height":107,"data":{"values":[]},"mark":"text"},
{"width":10,"height":107,"data":{"values":[]},"mark":"text"},
{"width":253,"height":107,"data":{"values":[]},"mark":"text"},
{"width":19,"height":107,"data":{"values":[]},"mark":"text"},
{"width":42,"height":107,"view":{"fill":"#ffffff"},"data":{"values":[]},"mark":"text"},
{"width":58,"height":107,"data":{"values":[{"t":"Graphs by eq. payoff ratio"}]},"mark":{"type":"text","font":"Liberation Sans","fontSize":12,"color":"#000000","align":"left","baseline":"middle","dx":4,"dy":36.5},"encoding":{"text":{"field":"t"}}},
{"width":253,"height":107,"data":{"values":[]},"mark":"text"},
{"width":10,"height":107,"data":{"values":[]},"mark":"text"},
{"width":253,"height":107,"data":{"values":[]},"mark":"text"},
{"width":9,"height":107,"data":{"values":[]},"mark":"text"},
{"width":8,"height":107,"view":{"fill":"#ffffff"},"data":{"values":[]},"mark":"text"},

{"width":7,"height":7,"view":{"fill":"#ffffff"},"data":{"values":[]},"mark":"text"},
{"width":58,"height":7,"view":{"fill":"#ffffff"},"data":{"values":[]},"mark":"text"},
{"width":253,"height":7,"view":{"fill":"#ffffff"},"data":{"values":[]},"mark":"text"},
{"width":10,"height":7,"view":{"fill":"#ffffff"},"data":{"values":[]},"mark":"text"},
{"width":253,"height":7,"view":{"fill":"#ffffff"},"data":{"values":[]},"mark":"text"},
{"width":19,"height":7,"view":{"fill":"#ffffff"},"data":{"values":[]},"mark":"text"},
{"width":42,"height":7,"view":{"fill":"#ffffff"},"data":{"values":[]},"mark":"text"},
{"width":58,"height":7,"view":{"fill":"#ffffff"},"data":{"values":[]},"mark":"text"},
{"width":253,"height":7,"view":{"fill":"#ffffff"},"data":{"values":[]},"mark":"text"},
{"width":10,"height":7,"view":{"fill":"#ffffff"},"data":{"values":[]},"mark":"text"},
{"width":253,"height":7,"view":{"fill":"#ffffff"},"data":{"values":[]},"mark":"text"},
{"width":9,"height":7,"view":{"fill":"#ffffff"},"data":{"values":[]},"mark":"text"},
{"width":8,"height":7,"view":{"fill":"#ffffff"},"data":{"values":[]},"mark":"text"}
],
"config":{
 "view":{"stroke":null},
 "axis":{"labelFont":"Liberation Sans","labelFontSize":11.5,"labelColor":"#000000","tickColor":"#000000","domainColor":"#000000","tickSize":5,"tickWidth":1,"domainWidth":1,"gridColor":"#eaf2f3","gridWidth":1,"titleFont":"Liberation Sans","titleFontSize":15,"titleFontWeight":"normal","titleColor":"#000000","labelFlush":false,"labelOverlap":false,"titlePadding":0}
}
}
